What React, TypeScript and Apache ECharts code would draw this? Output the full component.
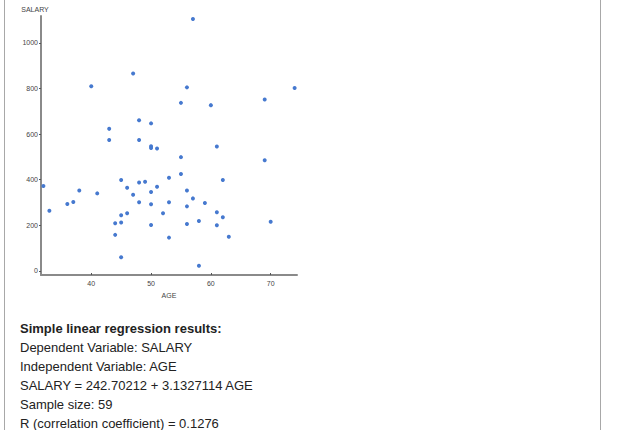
import React, { useEffect, useRef } from "react";
import * as echarts from "echarts";

const ages = [32, 33, 36, 37, 38, 40, 41, 43, 43, 44, 44, 45, 45, 45, 45, 46, 46, 47, 47, 48, 48, 48, 48, 49, 50, 50, 50, 50, 50, 50, 51, 51, 52, 53, 53, 53, 55, 55, 55, 56, 56, 56, 56, 57, 57, 58, 58, 59, 60, 61, 61, 61, 62, 62, 63, 69, 69, 70, 74];
const salaries = [372, 264, 293, 302, 353, 810, 340, 623, 574, 209, 158, 399, 244, 212, 60, 365, 253, 866, 334, 661, 574, 388, 301, 391, 647, 547, 539, 346, 292, 201, 537, 369, 253, 409, 301, 146, 737, 499, 425, 805, 353, 283, 206, 1105, 318, 219, 23, 298, 727, 546, 257, 200, 399, 235, 150, 752, 485, 216, 802];
const xTicks = [40, 50, 60, 70];
const yTicks = [0, 200, 400, 600, 800, 1000];
const resultLines = [
  "Dependent Variable: SALARY",
  "Independent Variable: AGE",
  "SALARY = 242.70212 + 3.1327114 AGE",
  "Sample size: 59",
  "R (correlation coefficient) = 0.1276",
];
const resultTitle = "Simple linear regression results:";

export default function App() {
  const ref = useRef<HTMLDivElement>(null);
  useEffect(() => {
    if (!ref.current) return;
    const chart = echarts.init(ref.current, null, { renderer: "svg" });
    const axisFont = { fontFamily: "Liberation Sans, Arial, sans-serif", fontSize: 7, color: "#444" };
    const textFont = "Liberation Sans, Arial, sans-serif";
    const graphics: any[] = [
      { type: "line", shape: { x1: 4.5, y1: 0, x2: 4.5, y2: 430 }, style: { stroke: "#a8a8a8", lineWidth: 1 } },
      { type: "line", shape: { x1: 600.5, y1: 0, x2: 600.5, y2: 430 }, style: { stroke: "#a8a8a8", lineWidth: 1 } },
      {
        type: "text",
        x: 20,
        y: 328,
        style: { text: resultTitle, font: `bold 13px ${textFont}`, fill: "#222", verticalAlign: "middle" },
      },
    ];
    resultLines.forEach((t, i) => {
      graphics.push({
        type: "text",
        x: 20,
        y: 347 + i * 19.1,
        style: { text: t, font: `13px ${textFont}`, fill: "#222", verticalAlign: "middle" },
      });
    });
    chart.setOption({
      animation: false,
      backgroundColor: "#fff",
      grid: { left: 41, top: 16, width: 256, height: 259, containLabel: false },
      xAxis: {
        type: "value",
        min: 31.6,
        max: 74.4,
        name: "AGE",
        nameLocation: "middle",
        nameGap: 15,
        nameTextStyle: { ...axisFont, fontSize: 7 },
        splitLine: { show: false },
        axisLine: { show: true, onZero: false, lineStyle: { color: "#8a8a8a", width: 2 } },
        axisTick: { show: true, inside: true, length: 2, customValues: xTicks, lineStyle: { color: "#555" } },
        axisLabel: { ...axisFont, margin: 5, customValues: xTicks, formatter: (v: number) => String(v) },
      },
      yAxis: {
        type: "value",
        min: -18,
        max: 1118,
        name: "SALARY",
        nameLocation: "end",
        nameGap: 3,
        nameTextStyle: { ...axisFont, fontSize: 7, align: "center", padding: [0, 12, 0, 0] },
        splitLine: { show: false },
        axisLine: { show: true, onZero: false, lineStyle: { color: "#8a8a8a", width: 2 } },
        axisTick: { show: true, length: 2, customValues: yTicks, lineStyle: { color: "#555" } },
        axisLabel: { ...axisFont, margin: 3, customValues: yTicks, formatter: (v: number) => String(v) },
      },
      series: [
        {
          type: "scatter",
          data: ages.map((a, i) => [a, salaries[i]]),
          symbolSize: 4,
          itemStyle: { color: "#4679cf", opacity: 1 },
        },
      ],
      graphic: graphics,
    });
    return () => chart.dispose();
  }, []);
  return (
    <div style={{ position: "absolute", left: 0, top: 0, width: 621, height: 430, background: "#fff" }}>
      <div ref={ref} style={{ width: 621, height: 430 }} />
    </div>
  );
}
